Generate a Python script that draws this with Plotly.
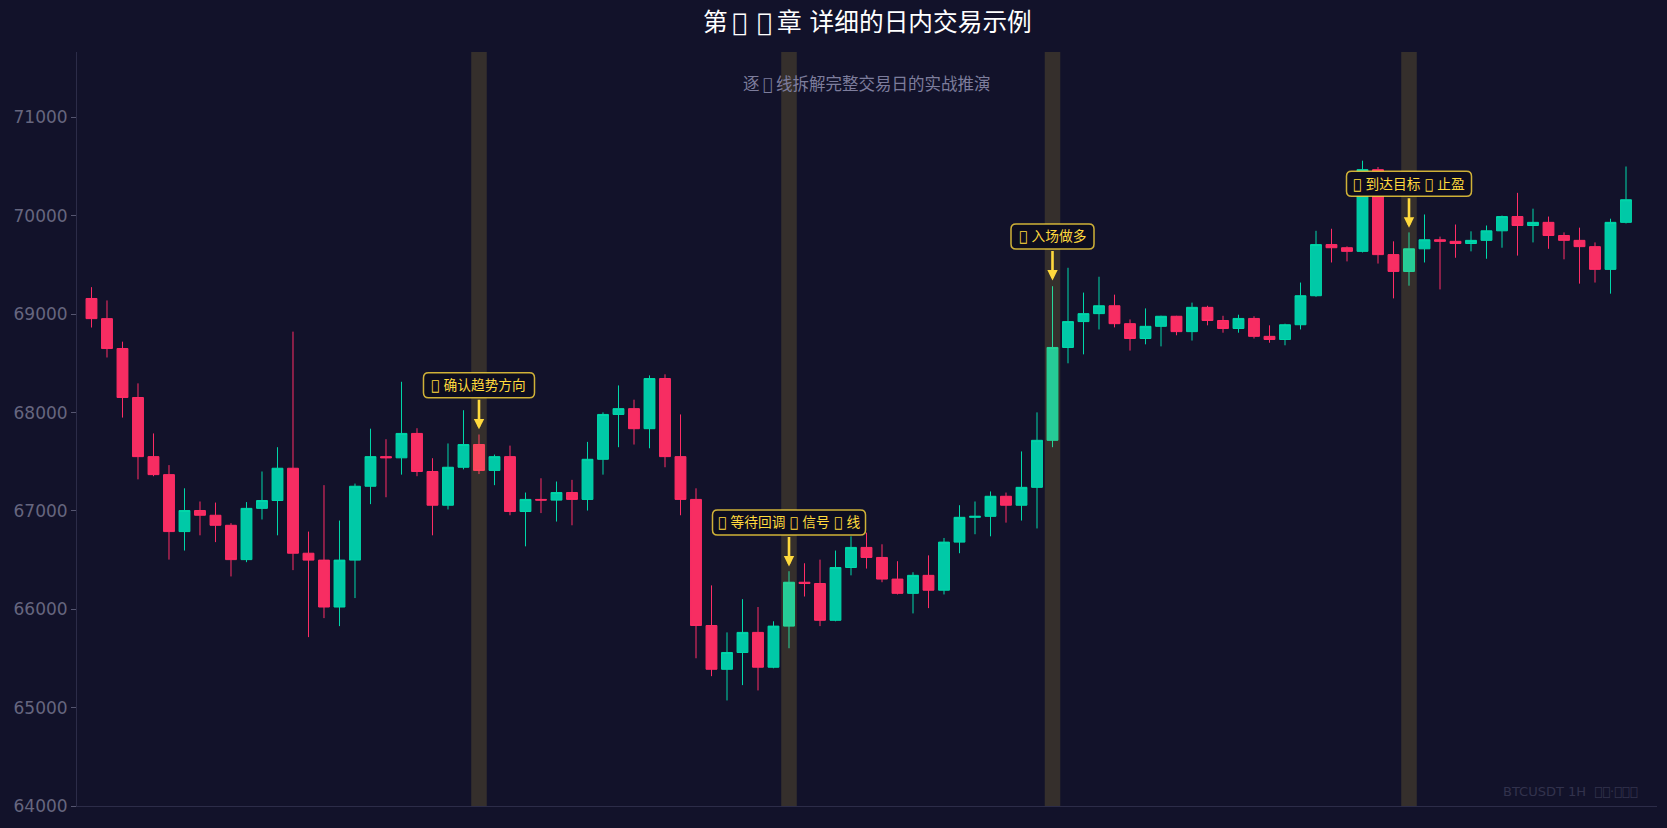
import plotly.graph_objects as go

# OHLC, one hourly candle per entry
opens = [69160, 68955, 68651, 68153, 67552, 67369, 66790, 67004, 66956, 66854,
         66505, 67026, 67106, 67434, 66570, 66500, 66023, 66500, 67251, 67552,
         67540, 67788, 67401, 67058, 67444, 67675, 67412, 67552, 66994, 67117,
         67110, 67187, 67117, 67525, 67981, 68040, 67836, 68346, 67552, 67117,
         65835, 65390, 65561, 65765, 65411, 65829, 66275, 66262, 65888, 66425,
         66629, 66527, 66307, 66162, 66345, 66194, 66683, 66935, 66945, 67149,
         67058, 67240, 67718, 68662, 68925, 69006, 69086, 68904, 68753, 68877,
         68979, 68823, 69070, 68936, 68855, 68957, 68775, 68743, 68893, 69188,
         69708, 69676, 69639, 70470, 69606, 69435, 69665, 69757, 69741, 69719,
         69751, 69848, 69993, 69902, 69934, 69800, 69751, 69687, 69456, 69934]
highs = [69275, 69140, 68721, 68297, 67788, 67466, 67230, 67096, 67085, 66876,
         67090, 67401, 67648, 68823, 66790, 67262, 66902, 67278, 67836, 67729,
         68313, 67841, 67536, 67686, 68024, 67777, 67573, 67664, 67187, 67332,
         67299, 67316, 67702, 68002, 68276, 68131, 68378, 68389, 67981, 67230,
         66243, 65765, 66103, 66023, 65878, 66387, 66468, 66505, 66597, 66742,
         66779, 66661, 66489, 66377, 66548, 66725, 67058, 67096, 67198, 67187,
         67605, 68002, 69285, 69472, 69220, 69381, 69199, 68947, 69059, 68985,
         68984, 69118, 69086, 68984, 68995, 68979, 68887, 68904, 69322, 69848,
         69869, 69690, 70561, 70497, 69741, 69832, 70014, 69789, 69912, 69843,
         69902, 70003, 70234, 70073, 69993, 69832, 69880, 69730, 69971, 70502]
lows = [68865, 68560, 67949, 67321, 67353, 66505, 66597, 66752, 66683, 66334,
        66479, 66913, 66752, 66398, 65717, 65910, 65829, 66114, 67069, 67139,
        67369, 67353, 66752, 67015, 67423, 67375, 67262, 66956, 66640, 66978,
        66892, 66854, 67004, 67369, 67648, 67675, 67637, 67444, 66956, 65502,
        65320, 65073, 65229, 65175, 65400, 65604, 66130, 65829, 65878, 66345,
        66414, 66275, 66151, 65958, 66012, 66151, 66570, 66763, 66742, 66881,
        66902, 66822, 67648, 68501, 68592, 68845, 68866, 68630, 68694, 68673,
        68786, 68732, 68887, 68812, 68812, 68753, 68710, 68684, 68845, 69177,
        69526, 69537, 69628, 69515, 69161, 69290, 69526, 69252, 69574, 69639,
        69564, 69676, 69596, 69730, 69665, 69558, 69311, 69322, 69209, 69923]
closes = [68955, 68651, 68153, 67552, 67369, 66790, 67004, 66956, 66854, 66505,
          67026, 67106, 67434, 66570, 66500, 66023, 66500, 67251, 67552, 67540,
          67788, 67401, 67058, 67444, 67675, 67412, 67552, 66994, 67117, 67110,
          67187, 67117, 67525, 67981, 68040, 67836, 68346, 67552, 67117, 65835,
          65390, 65561, 65765, 65411, 65829, 66275, 66262, 65888, 66425, 66629,
          66527, 66307, 66162, 66345, 66194, 66683, 66935, 66945, 67149, 67058,
          67240, 67718, 68662, 68925, 69006, 69086, 68904, 68753, 68877, 68979,
          68823, 69070, 68936, 68855, 68957, 68775, 68743, 68893, 69188, 69708,
          69676, 69639, 70470, 69606, 69435, 69665, 69757, 69741, 69719, 69751,
          69848, 69993, 69902, 69934, 69800, 69751, 69687, 69456, 69934, 70164]

# Highlighted candles and their callouts (\ue000 has no glyph, it draws the empty box of the picture)
marker_candles = [25, 45, 62, 85]
marker_labels = ['\ue000 确认趋势方向', '\ue000 等待回调 \ue000 信号 \ue000 线', '\ue000 入场做多', '\ue000 到达目标 \ue000 止盈']
marker_tips = [67830, 66436, 69344, 69880]

title_text = '第\u2009\ue000\u2009\u2009\ue000\u2009章 详细的日内交易示例'
subtitle_text = '逐\u2009\ue000\u2009线拆解完整交易日的实战推演'
watermark_text = 'BTCUSDT 1H  \ue000\ue000·\ue000\ue000\ue000'
y_ticks = [64000, 65000, 66000, 67000, 68000, 69000, 70000, 71000]

BG = '#12122a'
GREEN = '#00c9a7'
GREEN_WICK = '#00d8aa'
RED = '#f72d62'
RED_WICK = '#ff2d66'
GOLD = '#ffd93d'
AXIS = '#2c2c48'
FONT = 'DejaVu Sans, Noto Sans CJK SC'


def rounded_box(w, h, r):
    # path in pixels, relative to the shape anchor
    x0, x1 = -w / 2, w / 2
    y0, y1 = 44 - h / 2, 44 + h / 2
    return (f'M {x0 + r} {y0} L {x1 - r} {y0} Q {x1} {y0} {x1} {y0 + r} '
            f'L {x1} {y1 - r} Q {x1} {y1} {x1 - r} {y1} L {x0 + r} {y1} '
            f'Q {x0} {y1} {x0} {y1 - r} L {x0} {y0 + r} Q {x0} {y0} {x0 + r} {y0} Z')


fig = go.Figure()

fig.add_trace(go.Candlestick(
    x=list(range(len(opens))),
    open=opens, high=highs, low=lows, close=closes,
    whiskerwidth=0,
    increasing=dict(line=dict(color=GREEN_WICK, width=1), fillcolor=GREEN),
    decreasing=dict(line=dict(color=RED_WICK, width=1), fillcolor=RED),
    showlegend=False,
))

# Gold bands over the key candles
for i in marker_candles:
    fig.add_shape(type='rect', xref='x', yref='paper', x0=i - 0.5, x1=i + 0.5, y0=0, y1=1,
                  fillcolor='rgba(255,217,61,0.15)', line_width=0, layer='above')

# Callouts: rounded box as a pixel sized shape, arrow and text as two annotations
box_widths = [111, 153, 83, 125]
for i, tip, label, w in zip(marker_candles, marker_tips, marker_labels, box_widths):
    fig.add_shape(type='path', xref='x', yref='y', xsizemode='pixel', ysizemode='pixel',
                  xanchor=i, yanchor=tip, path=rounded_box(w, 25, 5),
                  fillcolor='#0d0d1f', line=dict(color='rgba(255,217,61,0.8)', width=1.5),
                  layer='above')
    fig.add_annotation(x=i, y=tip, text='', ax=0, ay=-31, showarrow=True,
                       arrowhead=2, arrowsize=0.8, arrowwidth=2.6, arrowcolor=GOLD)
    fig.add_annotation(x=i, y=tip, yshift=44, text=label, showarrow=False,
                       font=dict(family=FONT, size=13.7, color=GOLD))

fig.add_annotation(xref='paper', yref='paper', x=0.5, y=1, yshift=30, yanchor='middle',
                   text=title_text, showarrow=False,
                   font=dict(family=FONT, size=24.7, color='white'))
fig.add_annotation(xref='paper', yref='paper', x=0.5, y=1, yshift=-32, yanchor='middle',
                   text=subtitle_text, showarrow=False,
                   font=dict(family=FONT, size=16.5, color='#7d7d9c'))
fig.add_annotation(xref='paper', yref='paper', x=1, y=0, xshift=-17, yshift=15,
                   xanchor='right', yanchor='middle', text=watermark_text, showarrow=False,
                   font=dict(family=FONT, size=13, color='#32324d'))

fig.update_layout(
    width=1667, height=828,
    margin=dict(l=77, r=10, t=52, b=22),
    paper_bgcolor=BG, plot_bgcolor=BG,
    font=dict(family=FONT),
    boxgap=0.3, boxgroupgap=0,
    showlegend=False,
    xaxis=dict(range=[-0.935, 101], rangeslider=dict(visible=False), showgrid=False, zeroline=False,
               showticklabels=False, ticks='', showline=True, linecolor=AXIS, linewidth=1),
    yaxis=dict(range=[64000, 71666], tickvals=y_ticks, tickformat='d', showgrid=False, zeroline=False,
               ticks='outside', ticklen=5, tickcolor='#55556f', showline=True, linecolor=AXIS, linewidth=1,
               tickfont=dict(family=FONT, size=17, color='#66667f')),
)

# page margin would otherwise shift the picture
fig.write_html('out.html', config={'displayModeBar': False},
               post_script="document.body.style.margin='0';")
